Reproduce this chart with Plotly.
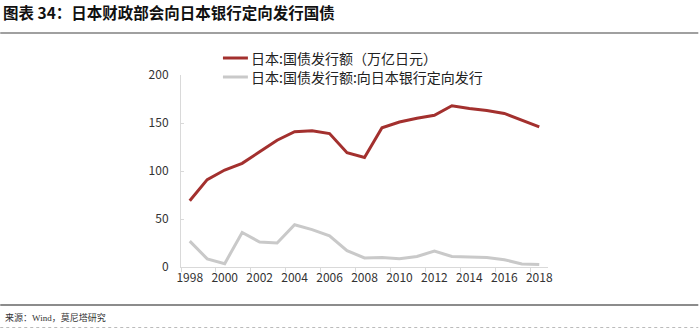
import plotly.graph_objects as go

years = [str(y) for y in range(1998, 2019)]
total_issue = [69, 91, 101, 108, 120, 132, 141, 142, 139, 119, 114, 145, 151, 155, 158, 168, 165, 163, 160, 153, 146]
boj_issue = [27, 8.5, 3.5, 36, 26, 25, 44, 39, 32.5, 17, 9.5, 10, 8.7, 11, 16.5, 11, 10.5, 10, 7.6, 3.2, 2.5]
y_ticks = [0, 50, 100, 150, 200]

name_total = "日本:国债发行额（万亿日元）"
name_boj = "日本:国债发行额:向日本银行定向发行"
title_text = "图表 34：日本财政部会向日本银行定向发行国债"
source_text = "来源：Wind，莫尼塔研究"

colors = ["#A3302E", "#C9C9C9"]

W, H = 699, 329
L, R, T, B = 181, 548.5, 75, 267
pw, ph = R - L, B - T

def px(x):
    return (x - L) / pw

def py(y):
    return (B - y) / ph

CJK = "Noto Sans CJK SC"

fig = go.Figure()
fig.add_trace(go.Scatter(x=years, y=total_issue, mode="lines", name=name_total,
                         line=dict(color=colors[0], width=3)))
fig.add_trace(go.Scatter(x=years, y=boj_issue, mode="lines", name=name_boj,
                         line=dict(color=colors[1], width=3)))

shapes = [
    dict(type="line", xref="paper", yref="paper", x0=px(0), x1=px(W),
         y0=py(33), y1=py(33), line=dict(color="#A0A0A0", width=2)),
    dict(type="line", xref="paper", yref="paper", x0=px(0), x1=px(W),
         y0=py(305), y1=py(305), line=dict(color="#666666", width=1.5)),
    dict(type="line", xref="paper", yref="paper", x0=px(0), x1=px(W),
         y0=py(327.5), y1=py(327.5), line=dict(color="#BBBBBB", width=1, dash="dot")),
]
annotations = [
    dict(text=source_text, xref="paper", yref="paper", x=px(3), y=py(317),
         xanchor="left", yanchor="middle", showarrow=False,
         font=dict(family="Liberation Serif, " + CJK, size=9, color="#333333")),
]
# manual legend
for i, (nm, col) in enumerate([(name_total, colors[0]), (name_boj, colors[1])]):
    yy = 58 + 19 * i
    shapes.append(dict(type="line", xref="paper", yref="paper", x0=px(223), x1=px(248),
                       y0=py(yy), y1=py(yy), line=dict(color=col, width=3)))
    annotations.append(dict(text=nm, xref="paper", yref="paper", x=px(249), y=py(yy),
                            xanchor="left", yanchor="middle", showarrow=False,
                            font=dict(family=CJK, size=14, color="#222222")))

fig.update_layout(
    width=W, height=H,
    margin=dict(l=L, r=W - R, t=T, b=H - B),
    paper_bgcolor="white", plot_bgcolor="white",
    font=dict(family=CJK, size=12, color="#333333"),
    showlegend=False,
    title=dict(text=title_text, x=3 / W, xanchor="left", xref="container",
               y=1 - 14 / H, yanchor="middle", yref="container",
               font=dict(family=CJK, size=15.5, color="#111111", weight="bold")),
    xaxis=dict(type="category", showgrid=False, showline=True, linecolor="#D9D9D9",
               linewidth=1, ticks="outside", tickson="boundaries", ticklen=4,
               tickcolor="#D9D9D9", dtick=2, tickangle=0,
               tickfont=dict(size=12, color="#333333"),
               range=[-0.5, 20.5]),
    yaxis=dict(range=[0, 200], tickvals=y_ticks, showgrid=False, showline=True,
               linecolor="#D9D9D9", linewidth=1, ticks="inside", ticklen=3,
               tickcolor="#D9D9D9", zeroline=False, ticklabelstandoff=9,
               tickfont=dict(size=12, color="#333333")),
    shapes=shapes,
    annotations=annotations,
)

fig.write_html("out.html")
